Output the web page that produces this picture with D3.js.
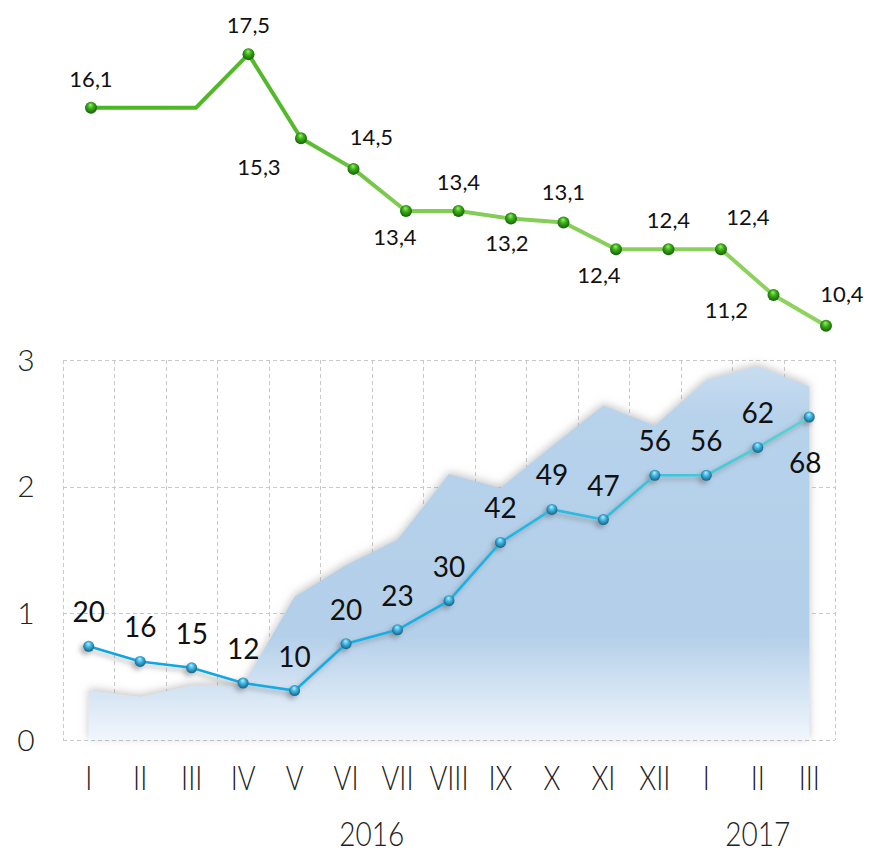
<!DOCTYPE html>
<html lang="en">
<head>
<meta charset="UTF-8">
<title>Two-panel line chart</title>
<script src="https://d3js.org/d3.v7.min.js"></script>
<style>
  body { margin: 0; background: #fff; }
  svg { display: block; font-family: Lato, "Open Sans", sans-serif; }
</style>
</head>
<body>
<svg width="870" height="854"></svg>
<script>
// data
const months = ["I", "II", "III", "IV", "V", "VI", "VII", "VIII", "IX", "X", "XI", "XII", "I", "II", "III"];
const years = ["2016", "2017"];
const yearSpans = [[0, 11], [12, 14]];

// upper green series (line values, which points carry a marker + label)
const greenValues = [16.1, 16.1, 16.1, 17.5, 15.3, 14.5, 13.4, 13.4, 13.2, 13.1, 12.4, 12.4, 12.4, 11.2, 10.4];
const greenMarked = [true, false, false, true, true, true, true, true, true, true, true, true, true, true, true];

// lower chart: blue line (axis units) and its value labels
const blueValues = [0.74, 0.62, 0.57, 0.45, 0.39, 0.76, 0.87, 1.10, 1.56, 1.82, 1.74, 2.09, 2.09, 2.31, 2.55];
const blueLabels = [20, 16, 15, 12, 10, 20, 23, 30, 42, 49, 47, 56, 56, 62, 68];

// lower chart: shaded area
const areaValues = [0.39, 0.34, 0.43, 0.43, 1.13, 1.38, 1.58, 2.10, 1.99, 2.32, 2.64, 2.48, 2.84, 2.95, 2.79];

const yTicks = [0, 1, 2, 3];

const keys = d3.range(months.length);
const svg = d3.select("svg");
const defs = svg.append("defs");

const x = d3.scaleBand().domain(keys).range([63, 835]).padding(0);
const y = d3.scaleLinear().domain([0, 3]).range([740, 360]);
const cx = i => x(i) + x.bandwidth() / 2;

const gx = d3.scalePoint().domain(keys).range([91, 826]);
const gy = d3.scaleLinear().domain([10, 18]).range([341, 35]);

const comma = d3.formatLocale({ decimal: ",", thousands: " ", grouping: [3], currency: ["", ""] }).format(".1f");

// ---------- defs ----------
const areaGrad = defs.append("linearGradient").attr("id", "areaGrad")
  .attr("gradientUnits", "userSpaceOnUse").attr("x1", 0).attr("x2", 0).attr("y1", 360).attr("y2", 740);
[[0, "#cadef1"], [0.15, "#b7d2eb"], [0.72, "#b3cfe9"], [1, "#f1f6fc"]].forEach(s =>
  areaGrad.append("stop").attr("offset", s[0]).attr("stop-color", s[1]));

const blueGrad = defs.append("linearGradient").attr("id", "blueGrad")
  .attr("gradientUnits", "userSpaceOnUse").attr("x1", 89).attr("x2", 809).attr("y1", 0).attr("y2", 0);
[[0, "#0aa4e4"], [0.55, "#1ab3e4"], [1, "#55d4d2"]].forEach(s =>
  blueGrad.append("stop").attr("offset", s[0]).attr("stop-color", s[1]));

const greenGrad = defs.append("linearGradient").attr("id", "greenGrad")
  .attr("gradientUnits", "userSpaceOnUse").attr("x1", 91).attr("x2", 826).attr("y1", 0).attr("y2", 0);
[[0, "#4ab720"], [0.28, "#55ba2c"], [0.42, "#80cc52"], [1, "#8fd35f"]].forEach(s =>
  greenGrad.append("stop").attr("offset", s[0]).attr("stop-color", s[1]));

const blueBall = defs.append("radialGradient").attr("id", "blueBall")
  .attr("cx", "50%").attr("cy", "45%").attr("r", "55%").attr("fx", "45%").attr("fy", "25%");
[[0, "#b8efff"], [0.45, "#3cb6e4"], [1, "#1b5f80"]].forEach(s =>
  blueBall.append("stop").attr("offset", s[0]).attr("stop-color", s[1]));

const greenBall = defs.append("radialGradient").attr("id", "greenBall")
  .attr("cx", "50%").attr("cy", "45%").attr("r", "55%").attr("fx", "45%").attr("fy", "25%");
[[0, "#9ef070"], [0.45, "#3cae18"], [1, "#15600a"]].forEach(s =>
  greenBall.append("stop").attr("offset", s[0]).attr("stop-color", s[1]));

defs.append("filter").attr("id", "areaShadow")
  .attr("x", "-10%").attr("y", "-10%").attr("width", "120%").attr("height", "120%")
  .append("feDropShadow").attr("dx", 0).attr("dy", -2).attr("stdDeviation", 4)
  .attr("flood-color", "#888").attr("flood-opacity", 0.5);

defs.append("filter").attr("id", "lineShadow")
  .attr("x", "-10%").attr("y", "-10%").attr("width", "120%").attr("height", "130%")
  .append("feDropShadow").attr("dx", -3).attr("dy", 3).attr("stdDeviation", 2.5)
  .attr("flood-color", "#555").attr("flood-opacity", 0.45);

// ---------- grid ----------
const grid = svg.append("g")
  .attr("stroke", "#c9c9c9").attr("stroke-dasharray", "4,3").attr("fill", "none")
  .attr("shape-rendering", "crispEdges");

const bounds = keys.map(i => x(i)).concat([x.range()[1]]);
grid.selectAll(".v").data(bounds).join("line")
  .attr("x1", d => Math.round(d) + 0.5).attr("x2", d => Math.round(d) + 0.5)
  .attr("y1", y(3)).attr("y2", y(0));
grid.selectAll(".h").data(yTicks).join("line")
  .attr("x1", x.range()[0]).attr("x2", x.range()[1])
  .attr("y1", d => Math.round(y(d)) + 0.5).attr("y2", d => Math.round(y(d)) + 0.5);

// ---------- area ----------
const area = d3.area().x((d, i) => cx(i)).y0(y(0)).y1(d => y(d));
svg.append("path").datum(areaValues)
  .attr("d", area)
  .attr("fill", "url(#areaGrad)")
  .attr("filter", "url(#areaShadow)");

// ---------- blue line ----------
const blueG = svg.append("g").attr("filter", "url(#lineShadow)");
blueG.append("path").datum(blueValues)
  .attr("d", d3.line().x((d, i) => cx(i)).y(d => y(d)))
  .attr("fill", "none").attr("stroke", "url(#blueGrad)").attr("stroke-width", 2.6);
blueG.selectAll("circle").data(blueValues).join("circle")
  .attr("cx", (d, i) => cx(i)).attr("cy", d => y(d)).attr("r", 5.5)
  .attr("fill", "url(#blueBall)");

svg.append("g").selectAll("text").data(blueLabels).join("text")
  .attr("x", (d, i) => cx(i) + (i === blueLabels.length - 1 ? -4 : 0))
  .attr("y", (d, i) => y(blueValues[i]) + (i === blueLabels.length - 1 ? 56 : -24))
  .attr("text-anchor", "middle")
  .attr("font-size", 28).attr("fill", "#111")
  .text(d => d);

// ---------- green line ----------
svg.append("path").datum(greenValues)
  .attr("d", d3.line().x((d, i) => gx(i)).y(d => gy(d)))
  .attr("fill", "none").attr("stroke", "url(#greenGrad)").attr("stroke-width", 4)
  .attr("stroke-linejoin", "miter");

const greenPts = keys.filter(i => greenMarked[i]);
svg.append("g").selectAll("circle").data(greenPts).join("circle")
  .attr("cx", i => gx(i)).attr("cy", i => gy(greenValues[i])).attr("r", 6)
  .attr("fill", "url(#greenBall)");

// label placement relative to the marker
const greenLabelOffset = {
  0: [0, -21], 3: [0, -21], 4: [-42, 37], 5: [18, -24], 6: [-11, 34], 7: [0, -21],
  8: [-4, 32], 9: [0, -22], 10: [-17, 34], 11: [0, -21], 12: [27, -24], 13: [-47, 23], 14: [16, -24]
};
svg.append("g").selectAll("text").data(greenPts).join("text")
  .attr("x", i => gx(i) + greenLabelOffset[i][0])
  .attr("y", i => gy(greenValues[i]) + greenLabelOffset[i][1])
  .attr("text-anchor", "middle")
  .attr("font-size", 22).attr("fill", "#111")
  .text(i => comma(greenValues[i]));

// ---------- axes ----------
const yAxis = svg.append("g")
  .attr("transform", "translate(26,0)")
  .call(d3.axisLeft(y).tickValues(yTicks).tickFormat(d3.format("d")).tickSize(0).tickPadding(0));
yAxis.select(".domain").remove();
yAxis.attr("font-family", null).attr("font-size", null);
yAxis.selectAll("text")
  .attr("x", 0).attr("dy", "0.34em")
  .attr("text-anchor", "middle")
  .attr("font-size", 30).attr("font-weight", 300).attr("fill", "#222");

const xAxis = svg.append("g")
  .attr("transform", "translate(0,790)")
  .call(d3.axisBottom(x).tickFormat(i => months[i]).tickSize(0).tickPadding(0));
xAxis.select(".domain").remove();
xAxis.attr("font-family", null).attr("font-size", null);
xAxis.selectAll("text")
  .attr("y", 0).attr("dy", 0)
  .attr("transform", "scale(0.8,1)")
  .attr("font-size", 34).attr("font-weight", 300).attr("fill", "#222");

svg.append("g").selectAll("text").data(years).join("text")
  .attr("transform", (d, i) => {
    const mid = (cx(yearSpans[i][0]) + cx(yearSpans[i][1])) / 2;
    return `translate(${mid},846) scale(0.85,1)`;
  })
  .attr("text-anchor", "middle")
  .attr("font-size", 33).attr("font-weight", 300).attr("fill", "#222")
  .text(d => d);
</script>
</body>
</html>
